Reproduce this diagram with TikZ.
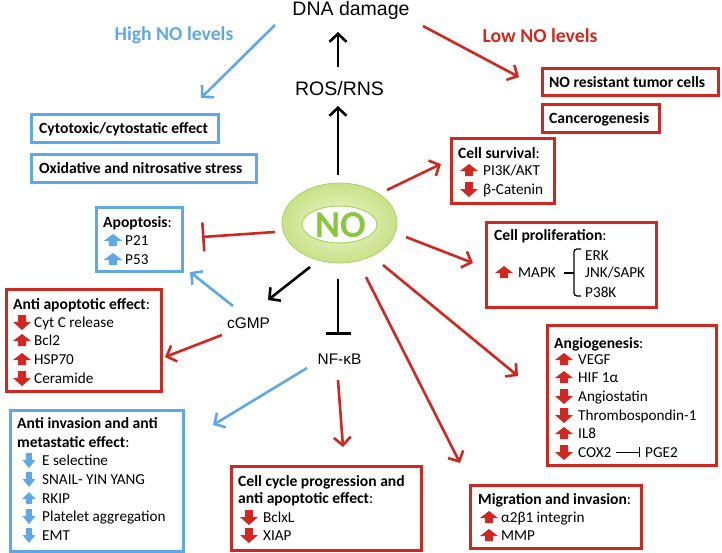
\documentclass[tikz,border=0pt]{standalone}
\usepackage{fontspec}
\setmainfont{Carlito}
\newfontfamily\arialf{Liberation Sans}
\usetikzlibrary{arrows.meta}
\definecolor{nored}{RGB}{208,40,32}
\definecolor{noblue}{RGB}{95,168,230}
\definecolor{nogreen}{RGB}{140,198,63}
\definecolor{ringin}{RGB}{240,247,210}
\definecolor{ringout}{RGB}{200,225,135}
\definecolor{ringline}{RGB}{175,208,100}
\tikzset{
  redbox/.style={draw=nored, line width=3pt, anchor=north west, inner sep=0pt},
  bluebox/.style={draw=noblue, line width=3pt, anchor=north west, inner sep=0pt},
  itm/.style={anchor=base west, inner sep=0pt, font=\fontsize{15.2}{18}\selectfont},
  btl/.style={anchor=base west, inner sep=0pt, font=\bfseries\fontsize{15.6}{18}\selectfont},
  arl/.style={anchor=base, inner sep=0pt, font=\arialf\fontsize{19.5}{22}\selectfont},
  ars/.style={anchor=base, inner sep=0pt, font=\arialf\fontsize{15.4}{18}\selectfont},
  conn/.style={line width=2.6pt, -{Straight Barb[length=8pt,width=17pt]}},
  inh/.style={line width=2.6pt, -{Bar[width=29pt]}},
  upic/.pic={\fill (-9,1) -- (0,-6) -- (9,1) -- (4,1) -- (4,6) -- (-4,6) -- (-4,1) -- cycle;},
  dnpic/.pic={\fill (-9,0) -- (0,8) -- (9,0) -- (4,0) -- (4,-7) -- (-4,-7) -- (-4,0) -- cycle;}
}
\begin{document}
\begin{tikzpicture}[x=1pt,y=-1pt]
\useasboundingbox (0,0) rectangle (722,552);
% ---------- top labels
\node[arl] (dna) at (351,15) {DNA damage};
\node[arl] (ros) at (339.5,95) {ROS/RNS};
\node[anchor=base, inner sep=0pt, text=noblue, font=\bfseries\fontsize{19.7}{22}\selectfont] (high) at (174,40) {High NO levels};
\node[anchor=base, inner sep=0pt, text=nored, font=\bfseries\fontsize{19.7}{22}\selectfont] (low) at (540,42) {Low NO levels};
% ---------- NO ellipse
\shade[inner color=ringin, outer color=ringout] (339.5,223) ellipse [x radius=57.5, y radius=40];
\draw[ringline, line width=0.8pt] (339.5,223) ellipse [x radius=57.5, y radius=40];
\fill[white] (339.5,224.5) ellipse [x radius=37.5, y radius=18.5];
\draw[ringline, line width=1pt] (339.5,224.5) ellipse [x radius=37.5, y radius=18.5];
\node[anchor=base, inner sep=0pt, text=nogreen, font=\bfseries\fontsize{38}{40}\selectfont] (no) at (340.5,237) {NO};
\node[ars] (cgmp) at (248.5,328) {cGMP};
\node[ars] (nfkb) at (339.5,364) {NF-\char"03BA B};
% ---------- boxes (high NO)
\node[bluebox, minimum width=187pt, minimum height=28pt] (cyto) at (30,113) {};
\node[btl] at (39,133) {Cytotoxic/cytostatic effect};
\node[bluebox, minimum width=225pt, minimum height=28pt] (oxid) at (30,153) {};
\node[btl] at (39,173) {Oxidative and nitrosative stress};
% ---------- boxes (low NO)
\node[redbox, minimum width=176pt, minimum height=27pt] (nores) at (541,67) {};
\node[btl] at (549,87) {NO resistant tumor cells};
\node[redbox, minimum width=117pt, minimum height=28pt] (cancer) at (541,103) {};
\node[btl] at (549,123) {Cancerogenesis};
% ---------- cell survival
\node[redbox, minimum width=103pt, minimum height=65pt] (surv) at (450,137) {};
\node[btl] at (458,158) {Cell survival\mdseries:};
\pic[nored] at (469,170) {upic};
\node[itm] at (483,175) {PI3K/AKT};
\pic[nored] at (469,189) {dnpic};
\node[itm] at (483,194) {\char"03B2-Catenin};
% ---------- cell proliferation
\node[redbox, minimum width=170pt, minimum height=85pt] (prolif) at (485,221) {};
\node[btl] at (494,240) {Cell proliferation\mdseries:};
\pic[nored] at (504,272) {upic};
\node[itm] at (518,277) {MAPK};
\draw[line width=1.3pt, rounded corners=3pt] (581,249) -| (574,296) -- (581,296);
\draw[line width=1.3pt] (564,273) -- (574,273);
\node[itm] at (585,260) {ERK};
\node[itm] at (585,277) {JNK/SAPK};
\node[itm] at (585,297) {P38K};
% ---------- angiogenesis
\node[redbox, minimum width=169pt, minimum height=140pt] (angio) at (546,324) {};
\node[btl] at (554,348) {Angiogenesis\mdseries:};
\pic[nored] at (564,359) {upic};
\node[itm] at (578,364) {VEGF};
\pic[nored] at (564,377) {upic};
\node[itm] at (578,382) {HIF 1\char"03B1};
\pic[nored] at (564,396) {dnpic};
\node[itm] at (578,401) {Angiostatin};
\pic[nored] at (564,415) {dnpic};
\node[itm] at (578,420) {Thrombospondin-1};
\pic[nored] at (564,433) {upic};
\node[itm] at (578,438) {IL8};
\pic[nored] at (564,452) {dnpic};
\node[itm] (cox) at (578,457) {COX2};
\coordinate (coxa) at (616,452);
\coordinate (coxb) at (640,452);
\draw[line width=0.8pt, -{Bar[width=10pt]}] (coxa) -- (coxb);
\node[itm] (pge) at (645,457) {PGE2};
% ---------- migration
\node[redbox, minimum width=171pt, minimum height=63pt] (migr) at (469,484) {};
\node[btl] at (478,504) {Migration and invasion\mdseries:};
\pic[nored] at (489,517) {upic};
\node[itm] at (501,522) {\char"03B1 2\char"03B2 1 integrin};
\pic[nored] at (489,535) {upic};
\node[itm] at (501,540) {MMP};
% ---------- cell cycle
\node[redbox, minimum width=190pt, minimum height=84pt] (cycle) at (230,465) {};
\node[btl] at (238,486) {Cell cycle progression and};
\node[btl] at (238,503) {anti apoptotic effect\mdseries:};
\pic[nored] at (249,517) {dnpic};
\node[itm] at (263,522) {BclxL};
\pic[nored] at (249,535) {dnpic};
\node[itm] at (263,540) {XIAP};
% ---------- anti invasion
\node[bluebox, minimum width=173pt, minimum height=141pt] (antiinv) at (9,409) {};
\node[btl] at (17,428) {Anti invasion and anti};
\node[btl] at (17,447) {metastatic effect\mdseries:};
\pic[noblue, xscale=0.72] at (29,460) {dnpic};
\node[itm] at (42,465) {E selectine};
\pic[noblue, xscale=0.72] at (29,479) {dnpic};
\node[itm] at (42,484) {SNAIL- YIN YANG};
\pic[noblue, xscale=0.75] at (29,498) {upic};
\node[itm] at (42,503) {RKIP};
\pic[noblue, xscale=0.72] at (29,516) {dnpic};
\node[itm] at (42,521) {Platelet aggregation};
\pic[noblue, xscale=0.72] at (29,535) {dnpic};
\node[itm] at (42,540) {EMT};
% ---------- anti apoptotic
\node[redbox, minimum width=155pt, minimum height=102pt] (antiapo) at (5,288) {};
\node[btl] at (13,309) {Anti apoptotic effect\mdseries:};
\pic[nored] at (22,322) {dnpic};
\node[itm] at (34,327) {Cyt C release};
\pic[nored] at (22,340) {upic};
\node[itm] at (34,345) {Bcl2};
\pic[nored] at (22,359) {upic};
\node[itm] at (34,364) {HSP70};
\pic[nored] at (22,378) {dnpic};
\node[itm] at (34,383) {Ceramide};
% ---------- apoptosis
\node[bluebox, minimum width=86pt, minimum height=64pt] (apop) at (95,206) {};
\node[btl] at (103,227) {Apoptosis\mdseries:};
\pic[noblue, xscale=1.05] at (113,240) {upic};
\node[itm] at (125,245) {P21};
\pic[noblue, xscale=1.05] at (113,259) {upic};
\node[itm] at (125,264) {P53};
% ---------- connector end points
\coordinate (hiA) at (275,25);   \coordinate (hiB) at (201,98);
\coordinate (loA) at (423,26);   \coordinate (loB) at (519,77);
\coordinate (rdA) at (338,67);   \coordinate (rdB) at (338,32);
\coordinate (nrA) at (338,175);  \coordinate (nrB) at (338,106);
\coordinate (nsA) at (387,190);  \coordinate (nsB) at (441,164);
\coordinate (npA) at (406,237);  \coordinate (npB) at (473,263);
\coordinate (naA) at (383,265);  \coordinate (naB) at (518,376);
\coordinate (nmA) at (366,277);  \coordinate (nmB) at (460,463);
\coordinate (niA) at (275,232);  \coordinate (niB) at (202,237);
\coordinate (ncA) at (310,267);  \coordinate (ncB) at (268,300);
\coordinate (nfA) at (338,279);  \coordinate (nfB) at (338,335);
\coordinate (caA) at (233,306);  \coordinate (caB) at (190,272);
\coordinate (cbA) at (222,335);  \coordinate (cbB) at (165,357);
\coordinate (fiA) at (307,368);  \coordinate (fiB) at (213,425);
\coordinate (fcA) at (338,380);  \coordinate (fcB) at (343,447);
% ---------- connectors
\draw[conn, noblue] (hiA) -- (hiB);
\draw[conn, nored] (loA) -- (loB);
\draw[conn, black] (rdA) -- (rdB);
\draw[conn, black] (nrA) -- (nrB);
\draw[conn, nored] (nsA) -- (nsB);
\draw[conn, nored] (npA) -- (npB);
\draw[conn, nored] (naA) -- (naB);
\draw[conn, nored] (nmA) -- (nmB);
\draw[inh, nored] (niA) -- (niB);
\draw[conn, black] (ncA) -- (ncB);
\draw[line width=2.6pt, black, -{Bar[width=25pt]}] (nfA) -- (nfB);
\draw[conn, noblue] (caA) -- (caB);
\draw[conn, nored] (cbA) -- (cbB);
\draw[conn, noblue] (fiA) -- (fiB);
\draw[conn, nored] (fcA) -- (fcB);
\end{tikzpicture}
\end{document}
